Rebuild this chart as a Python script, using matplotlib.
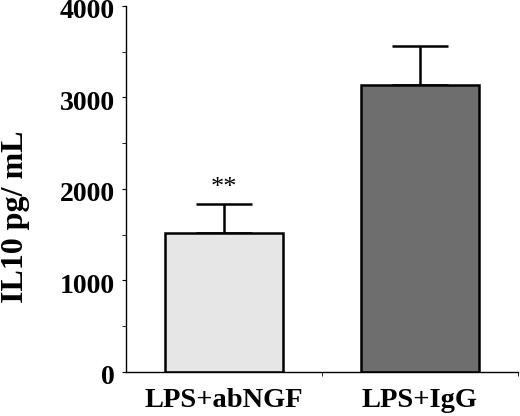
import matplotlib
matplotlib.use("Agg")
import matplotlib.pyplot as plt
from matplotlib.ticker import MultipleLocator
from matplotlib.transforms import ScaledTranslation

categories = ["LPS+abNGF", "LPS+IgG"]
values = [1520, 3137]
errors = [314, 430]
colors = ["#e6e6e6", "#6e6e6e"]
y_ticks = [0, 1000, 2000, 3000, 4000]
y_label = "IL10 pg/ mL"
annotation = "**"

plt.rcParams['font.family'] = ['Liberation Serif', 'DejaVu Serif']

fig = plt.figure(figsize=(5.2, 4.16), dpi=100)
ax = fig.add_axes([0.2423, 0.1065, 0.7537, 0.8791])

x = list(range(len(categories)))
ax.bar(x, values, width=0.6, color=colors, edgecolor="black", linewidth=1.8, zorder=2)
ax.errorbar(x, values, yerr=[[0] * len(errors), errors], fmt="none", ecolor="black",
            elinewidth=1.8, capsize=20, capthick=1.8, zorder=1)

ax.text(x[0], values[0] + errors[0] + 50, annotation, ha="center", va="bottom",
        fontsize=19, color="black")

ax.set_xlim(-0.5, 1.5)
ax.set_ylim(0, 4000)
ax.set_yticks(y_ticks)
ax.set_yticklabels([str(t) for t in y_ticks], fontsize=20, fontweight="bold")
ax.yaxis.set_minor_locator(MultipleLocator(500))
ax.set_xticks(x)
ax.set_xticklabels(categories, fontsize=20.5, fontweight="bold")
ax.set_xticks([0.5, 1.5], minor=True)
ax.tick_params(axis="x", which="major", length=0, pad=12)
ax.tick_params(axis="x", which="minor", length=3, direction="out")
ax.tick_params(axis="y", which="both", length=3, direction="out", pad=5)
ax.set_ylabel(y_label, fontsize=23, fontweight="bold")
ax.yaxis.set_label_coords(-0.245, 0.423)

shift = ScaledTranslation(0, -3 / 100, fig.dpi_scale_trans)
for lbl in ax.get_yticklabels():
    lbl.set_transform(lbl.get_transform() + shift)

for s in ["top", "right"]:
    ax.spines[s].set_visible(False)
for s in ["left", "bottom"]:
    ax.spines[s].set_linewidth(1.0)

fig.savefig("out.png", dpi=100)
